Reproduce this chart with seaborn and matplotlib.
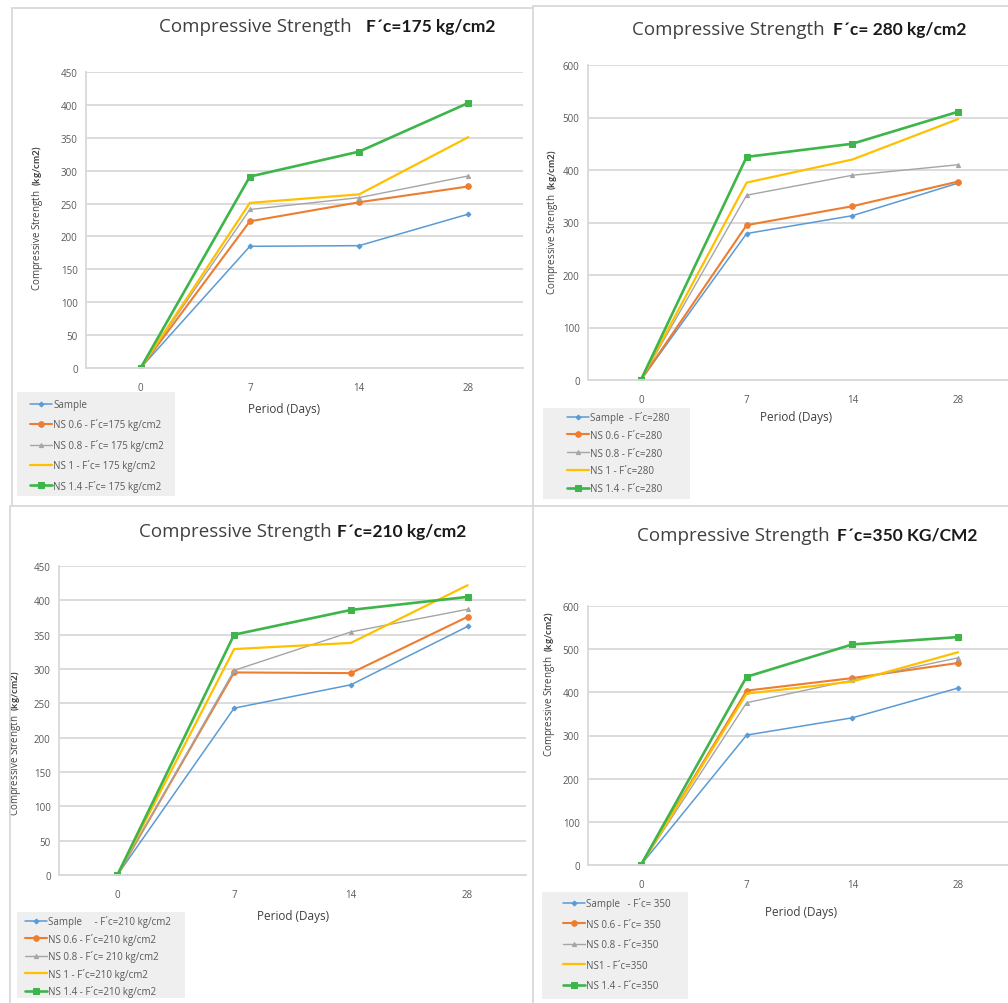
import matplotlib
matplotlib.use('Agg')
import matplotlib.pyplot as plt
import seaborn as sns
from matplotlib.lines import Line2D
from matplotlib.patches import Rectangle

sns.set_style('white')
plt.rcParams['font.family'] = ['Open Sans', 'DejaVu Sans']
plt.rcParams['mathtext.fontset'] = 'custom'
plt.rcParams['mathtext.rm'] = 'Open Sans'
plt.rcParams['mathtext.bf'] = 'Lato:bold'

# ---- data ----
days = ['0', '7', '14', '28']

fc175_sample = [0, 185, 186, 234]
fc175_ns06 = [0, 223, 252, 276]
fc175_ns08 = [0, 241, 259, 292]
fc175_ns1 = [0, 251, 264, 351]
fc175_ns14 = [0, 291, 329, 403]

fc280_sample = [0, 279, 313, 375]
fc280_ns06 = [0, 295, 331, 378]
fc280_ns08 = [0, 352, 390, 410]
fc280_ns1 = [0, 376, 420, 497]
fc280_ns14 = [0, 425, 450, 511]

fc210_sample = [0, 243, 277, 362]
fc210_ns06 = [0, 295, 294, 376]
fc210_ns08 = [0, 298, 354, 387]
fc210_ns1 = [0, 329, 338, 422]
fc210_ns14 = [0, 350, 386, 405]

fc350_sample = [0, 301, 341, 410]
fc350_ns06 = [0, 404, 433, 468]
fc350_ns08 = [0, 376, 428, 480]
fc350_ns1 = [0, 397, 425, 493]
fc350_ns14 = [0, 436, 511, 528]

labels175 = ['Sample', 'NS 0.6 - F´c=175 kg/cm2', 'NS 0.8 - F´c= 175 kg/cm2',
             'NS 1 - F´c= 175 kg/cm2', 'NS 1.4 -F´c= 175 kg/cm2']
labels280 = ['Sample  - F´c=280', 'NS 0.6 - F´c=280', 'NS 0.8 - F´c=280',
             'NS 1 - F´c=280', 'NS 1.4 - F´c=280']
labels210 = ['Sample     - F´c=210 kg/cm2', 'NS 0.6 - F´c=210 kg/cm2',
             'NS 0.8 - F´c= 210 kg/cm2', 'NS 1 - F´c=210 kg/cm2',
             'NS 1.4 - F´c=210 kg/cm2']
labels350 = ['Sample   - F´c= 350', 'NS 0.6 - F´c= 350', 'NS 0.8 - F´c=350',
             'NS1 - F´c=350', 'NS 1.4 - F´c=350']

colors = ['#5B9BD5', '#ED7D31', '#A5A5A5', '#FFC000', '#3DB54A']
markers = ['D', 'o', '^', None, 's']
msizes = [2.5, 4, 3, 0, 4]
lwidths = [1.1, 1.5, 1.0, 1.6, 1.9]

W, H = 1008, 1004
GRID = '#D9D9D9'
TXT = '#595959'

fig = plt.figure(figsize=(W / 100, H / 100), dpi=100)


def fx(x):
    return x / W


def fy(y):
    return 1 - y / H


def panel(series, labels, box, ymax, ystep, title_bold, t_end, t_start, t_y,
          xlab_pos, ylab_xy, leg_box, leg_anchor, leg_spacing):
    l, t, r, b = box
    ax = fig.add_axes([fx(l), fy(b), (r - l) / W, (b - t) / H])
    for vals, lab, c, m, ms, lw in zip(series, labels, colors, markers, msizes, lwidths):
        sns.lineplot(x=days, y=vals, ax=ax, sort=False, errorbar=None,
                     color=c, marker=m, markersize=ms, markeredgecolor=c,
                     linewidth=lw, label=lab)
    handles, labs = ax.get_legend_handles_labels()
    ax.get_legend().remove()

    ax.set_xlim(-0.5, 3.5)
    ax.set_ylim(0, ymax)
    ax.set_yticks(range(0, ymax + 1, ystep))
    ax.set_xticks([0.5, 1.5, 2.5], minor=True)
    ax.yaxis.grid(True, color=GRID, lw=1.3)
    ax.set_axisbelow(True)
    for s in ['top', 'right']:
        ax.spines[s].set_visible(False)
    for s in ['left', 'bottom']:
        ax.spines[s].set_color(GRID)
        ax.spines[s].set_linewidth(1.3)
    ax.tick_params(axis='y', length=3, color=GRID, labelsize=7, labelcolor=TXT, pad=3)
    ax.tick_params(axis='x', which='major', length=0, labelsize=7, labelcolor=TXT, pad=10)
    ax.tick_params(axis='x', which='minor', length=3, color=GRID, width=1)
    ax.set_xlabel('')
    ax.set_ylabel(r'Compressive Strength  $\mathbf{(kg/cm2)}$', fontsize=7, color='#404040')
    ax.yaxis.set_label_coords(*ylab_xy)

    fig.text(fx(t_end), fy(t_y), 'Compressive Strength', ha='right', va='center',
             fontsize=13.5, color='#404040')
    fig.text(fx(t_start), fy(t_y), title_bold, ha='left', va='center',
             fontsize=12.5, family='Lato', weight='bold', color='#1a1a1a')
    fig.text(fx(xlab_pos[0]), fy(xlab_pos[1]), 'Period (Days)', ha='center', va='center',
             fontsize=8.5, color='#404040')

    bl, bt, br, bb = leg_box
    fig.add_artist(Rectangle((fx(bl), fy(bb)), (br - bl) / W, (bb - bt) / H,
                             transform=fig.transFigure, facecolor='#EFEFEF',
                             edgecolor='none', zorder=1))
    fig.legend(handles, labs, loc='upper left',
               bbox_to_anchor=(fx(leg_anchor[0]), fy(leg_anchor[1])),
               bbox_transform=fig.transFigure, frameon=False, fontsize=7,
               borderpad=0, borderaxespad=0, handlelength=2.3, handletextpad=0.1,
               labelspacing=leg_spacing, labelcolor=TXT)
    return ax


panel([fc175_sample, fc175_ns06, fc175_ns08, fc175_ns1, fc175_ns14], labels175,
      (86, 73, 523, 369), 450, 50, 'F´c=175 kg/cm2', 352, 366, 27,
      (284, 409), (-0.094, 0.51), (17, 393, 175, 497), (30, 400), 0.87)
panel([fc280_sample, fc280_ns06, fc280_ns08, fc280_ns1, fc280_ns14], labels280,
      (588, 66, 1011, 381), 600, 100, 'F´c= 280 kg/cm2', 825, 833, 30,
      (796, 418), (-0.066, 0.505), (543, 409, 690, 500), (567, 412), 0.7)
panel([fc210_sample, fc210_ns06, fc210_ns08, fc210_ns1, fc210_ns14], labels210,
      (59, 567, 526, 876), 450, 50, 'F´c=210 kg/cm2', 332, 337, 532,
      (293, 917), (-0.077, 0.43), (17, 913, 185, 999), (25, 916), 0.57)
panel([fc350_sample, fc350_ns06, fc350_ns08, fc350_ns1, fc350_ns14], labels350,
      (588, 607, 1011, 866), 600, 100, 'F´c=350 KG/CM2', 830, 837, 536,
      (801, 913), (-0.073, 0.70), (542, 893, 688, 1000), (563, 898), 0.98)

# chart-area frames
frame = dict(transform=fig.transFigure, color=GRID, lw=1.3, zorder=2)
fig.add_artist(Line2D([fx(533), fx(533)], [fy(7), fy(1004)], **frame))
fig.add_artist(Line2D([fx(10), fx(1008)], [fy(507), fy(507)], **frame))
fig.add_artist(Line2D([fx(12), fx(533)], [fy(9), fy(9)], **frame))
fig.add_artist(Line2D([fx(533), fx(1008)], [fy(7), fy(7)], **frame))
fig.add_artist(Line2D([fx(12), fx(12)], [fy(9), fy(507)], **frame))
fig.add_artist(Line2D([fx(10), fx(10)], [fy(507), fy(1004)], **frame))

fig.savefig('out.png', dpi=100)
